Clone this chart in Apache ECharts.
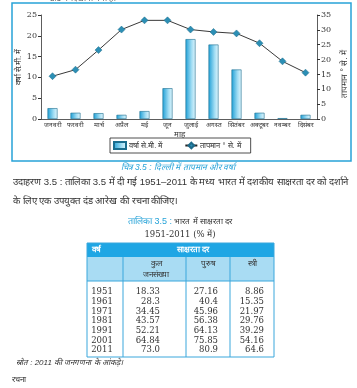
<!DOCTYPE html>
<html><head><meta charset="utf-8">
<script src="https://cdn.jsdelivr.net/npm/echarts@6/dist/echarts.min.js"></script>
<style>html,body{margin:0;padding:0;background:#fff}#c{width:357px;height:388px}</style>
</head><body><div id="c"></div>
<script>
const months = ['जनवरी','फरवरी','मार्च','अप्रैल','मई','जून','जुलाई','अगस्त','सितंबर','अक्टूबर','नवम्बर','दिसंबर'];
const rainfall = [2.6,1.5,1.4,1.0,1.9,7.4,19.2,17.9,11.9,1.5,0.2,1.0];
const temperature = [14.4,16.6,23.2,30.1,33.2,33.2,30.1,29.3,28.8,25.5,19.4,15.6];
const rainMax = 25, tempMax = 35, tickStep = 5;

const years = ['1951','1961','1971','1981','1991','2001','2011'];
const totalRate = ['18.33','28.3','34.45','43.57','52.21','64.84','73.0'];
const maleRate = ['27.16','40.4','45.96','56.38','64.13','75.85','80.9'];
const femaleRate = ['8.86','15.35','21.97','29.76','39.29','54.16','64.6'];

const serif = "'DejaVu Serif','Liberation Serif',serif";
const blue = '#27a3d8';
const textCol = '#333';

const colEdges = [87,123,186,230,274];
const tTop = 243, h1Bot = 257, h2Bot = 281, tBot = 357;
const rowY0 = 292, rowStep = 9.7;
const g = [];
g.push({type:'rect', shape:{x:12,y:3,width:339,height:158}, style:{fill:'none',stroke:blue,lineWidth:1.5}});
g.push({type:'text', left:50, top:-5, style:{text:'3.5 में दिखाया गया है।', font:'8px sans-serif', fill:'#555'}});
g.push({type:'text', x:178, y:168, style:{text:'चित्र 3.5 : दिल्ली में तापमान और वर्षा', font:'italic 8.5px sans-serif', fill:blue, align:'center', verticalAlign:'middle'}});
g.push({type:'text', x:13, y:182, style:{text:'उदाहरण 3.5 : तालिका 3.5 में दी गई 1951–2011 के मध्य भारत में दशकीय साक्षरता दर को दर्शाने', font:'9.6px sans-serif', fill:textCol, verticalAlign:'middle'}});
g.push({type:'text', x:13, y:201, style:{text:'के लिए एक उपयुक्त दंड आरेख की रचना कीजिए।', font:'9.6px sans-serif', fill:textCol, verticalAlign:'middle'}});
g.push({type:'text', x:180, y:222, style:{text:'{b|तालिका 3.5 :} भारत में साक्षरता दर', font:'8px sans-serif', fill:textCol, align:'center', verticalAlign:'middle', rich:{b:{fill:blue,font:'9px sans-serif'}}}});
g.push({type:'text', x:180, y:235, style:{text:'1951-2011 (% में)', font:'8.5px '+serif, fill:textCol, align:'center', verticalAlign:'middle'}});
g.push({type:'rect', shape:{x:colEdges[0],y:tTop,width:colEdges[4]-colEdges[0],height:h1Bot-tTop}, style:{fill:'#1fa6e4'}});
g.push({type:'rect', shape:{x:colEdges[0],y:h1Bot,width:colEdges[4]-colEdges[0],height:h2Bot-h1Bot}, style:{fill:'#a9dcf3'}});
g.push({type:'rect', shape:{x:colEdges[0],y:tTop,width:colEdges[4]-colEdges[0],height:tBot-tTop}, style:{fill:'none',stroke:'#3aa7dc',lineWidth:1}});
g.push({type:'line', shape:{x1:colEdges[0],y1:h2Bot,x2:colEdges[4],y2:h2Bot}, style:{stroke:'#3aa7dc',lineWidth:1}});
for (let i=1;i<4;i++) g.push({type:'line', shape:{x1:colEdges[i],y1:h1Bot,x2:colEdges[i],y2:tBot}, style:{stroke:'#3aa7dc',lineWidth:1}});
g.push({type:'text', x:92, y:250, style:{text:'वर्ष', font:'bold 8px sans-serif', fill:'#fff', verticalAlign:'middle'}});
g.push({type:'text', x:193, y:250, style:{text:'साक्षरता दर', font:'bold 8px sans-serif', fill:'#fff', align:'center', verticalAlign:'middle'}});
g.push({type:'text', x:156, y:269, style:{text:'कुल\nजनसंख्या', font:'8px sans-serif', lineHeight:11, fill:textCol, align:'center', verticalAlign:'middle'}});
g.push({type:'text', x:208, y:264, style:{text:'पुरुष', font:'8px sans-serif', fill:textCol, align:'center', verticalAlign:'middle'}});
g.push({type:'text', x:252, y:264, style:{text:'स्त्री', font:'8px sans-serif', fill:textCol, align:'center', verticalAlign:'middle'}});
years.forEach((y,i)=>{
  const yy = rowY0 + i*rowStep;
  const f = '8.5px '+serif;
  g.push({type:'text', x:102, y:yy, style:{text:y, font:f, fill:textCol, align:'center', verticalAlign:'middle'}});
  g.push({type:'text', x:160, y:yy, style:{text:totalRate[i], font:f, fill:textCol, align:'right', verticalAlign:'middle'}});
  g.push({type:'text', x:218, y:yy, style:{text:maleRate[i], font:f, fill:textCol, align:'right', verticalAlign:'middle'}});
  g.push({type:'text', x:264, y:yy, style:{text:femaleRate[i], font:f, fill:textCol, align:'right', verticalAlign:'middle'}});
});
g.push({type:'text', x:16, y:363, style:{text:'स्रोत : 2011 की जनगणना के आंकड़े।', font:'italic 8px sans-serif', fill:textCol, verticalAlign:'middle'}});
g.push({type:'text', x:12, y:380, style:{text:'रचना', font:'8px sans-serif', fill:textCol, verticalAlign:'middle'}});

const chart = echarts.init(document.getElementById('c'), null, {renderer:'canvas'});
chart.setOption({
  animation:false,
  backgroundColor:'#fff',
  textStyle:{fontFamily:'sans-serif'},
  grid:{left:41, right:36, top:15, height:104},
  legend:{
    left:110, top:138, width:140, height:13, padding:[3,10,3,3],
    borderColor:'#222', borderWidth:0.8, itemGap:22,
    itemWidth:12, itemHeight:7,
    textStyle:{fontSize:7.5, color:'#333', padding:[0,0,0,-2]},
    data:[{name:'वर्षा से.मी. में', icon:'rect'}, {name:'तापमान ° से. में'}]
  },
  xAxis:{
    type:'category', data:months, name:'माह', nameLocation:'middle', nameGap:12,
    nameTextStyle:{fontSize:8, color:'#333'},
    axisLine:{lineStyle:{color:'#333', width:0.8}},
    axisTick:{length:3, lineStyle:{color:'#333'}},
    axisLabel:{fontSize:6.5, color:'#333', margin:3, interval:0}
  },
  yAxis:[
    {type:'value', min:0, max:rainMax, interval:tickStep, name:'वर्षा से.मी. में', nameLocation:'middle', nameGap:18, nameRotate:90, nameMoveOverlap:false,
     nameTextStyle:{fontSize:8, color:'#333'},
     axisLine:{show:true, lineStyle:{color:'#333', width:0.8}}, axisTick:{show:true, length:3, lineStyle:{color:'#333'}},
     splitLine:{show:false}, axisLabel:{fontSize:8, color:'#333', margin:4, fontFamily:serif}},
    {type:'value', min:0, max:tempMax, interval:tickStep, name:'तापमान ° से. में', nameLocation:'middle', nameGap:23, nameRotate:90, nameMoveOverlap:false,
     nameTextStyle:{fontSize:8.5, color:'#333', padding:[0,0,0,-14]},
     axisLine:{show:true, lineStyle:{color:'#333', width:0.8}}, axisTick:{show:true, length:3, lineStyle:{color:'#333'}},
     splitLine:{show:false}, axisLabel:{fontSize:8, color:'#333', margin:4, fontFamily:serif}}
  ],
  series:[
    {name:'वर्षा से.मी. में', type:'bar', data:rainfall, yAxisIndex:0, barWidth:10,
     itemStyle:{color:new echarts.graphic.LinearGradient(0,0,1,0,[{offset:0,color:'#1e9fd6'},{offset:0.6,color:'#9fdcf3'},{offset:1,color:'#e4f7fd'}]), borderColor:'#1a6d8e', borderWidth:0.6}},
    {name:'तापमान ° से. में', type:'line', data:temperature, yAxisIndex:1, symbol:'diamond', symbolSize:7,
     lineStyle:{color:'#222', width:0.9}, itemStyle:{color:'#2c8fb5', borderColor:'#1d6a89', borderWidth:0.5}}
  ],
  graphic:g
});
</script></body></html>
